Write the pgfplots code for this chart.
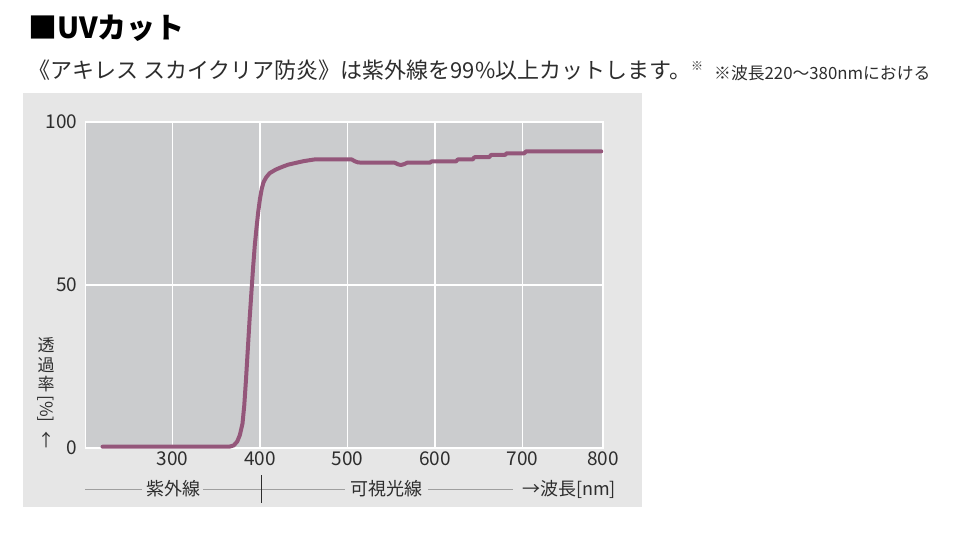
\documentclass[border=0pt]{standalone}
\usepackage{fontspec}
\setmainfont{Noto Sans CJK JP}
\usepackage{pgfplots}
\pgfplotsset{compat=1.18}
\definecolor{curve}{RGB}{148,86,122}
\definecolor{plotbg}{RGB}{203,204,206}
\definecolor{panel}{RGB}{230,230,230}
\definecolor{txt}{RGB}{45,45,45}
\pgfplotstableread{
nm T
220 0.4
365 0.4
370 0.8
374 2
377 4
380 7.5
382 13
384 21
386 30
388 39
390 47
392 55
394 62
396 67.5
398 72.5
400 76.5
402 79.5
404 81.5
407 83
411 84.3
418 85.4
425 86.2
432 86.9
440 87.4
450 88
462 88.5
505 88.5
508 88.0
512 87.6
520 87.5
554 87.5
558 87.0
561 86.8
565 87.1
568 87.5
594 87.5
596 87.9
624 87.9
626 88.5
643 88.5
645 89.2
662 89.2
664 89.9
680 89.9
682 90.4
702 90.4
704 91.0
790 91.0
}\transmission
\begin{document}
\begin{tikzpicture}[x=1pt,y=1pt]
\fill[white] (0,0) rectangle (964,-534);
\fill[panel] (23,-93) rectangle (642,-507);
\node[anchor=base west, inner sep=0, font=\fontsize{29}{29}\selectfont\bfseries] at (28,-39) {■UVカット};
\node[anchor=base west, inner sep=0, font=\fontsize{22}{22}\selectfont, text=txt] at (28,-79) {《アキレス スカイクリア防炎》は紫外線を99\%以上カットします。\raisebox{8pt}{\fontsize{12}{12}\selectfont ※}};
\node[anchor=base west, inner sep=0, font=\fontsize{16.8}{16}\selectfont, text=txt] at (714,-80) {※波長220～380nmにおける};
\begin{axis}[
  at={(85pt,-448pt)}, anchor=south west,
  scale only axis, width=518pt, height=326pt,
  xmin=200, xmax=792, ymin=0, ymax=100,
  xtick={300,400,500,600,700,792},
  xticklabels={300,400,500,600,700,800},
  ytick={0,50,100},
  grid=major,
  grid style={white, line width=1.5pt},
  axis background/.style={fill=plotbg},
  axis line style={white, line width=1pt},
  major tick length=0pt,
  tick label style={font=\fontsize{19}{19}\selectfont, text=txt},
  yticklabel style={xshift=-4pt},
  /pgf/number format/assume math mode=true,
  clip=false,
]
\addplot[curve, line width=4pt, line join=round, line cap=round] table[x=nm, y=T] {\transmission};
\end{axis}
% y label, stacked
\begin{scope}[every node/.style={font=\fontsize{17}{17}\selectfont, text=txt, inner sep=0}]
\node at (46,-345) {透};
\node at (46,-365) {過};
\node at (46,-384) {率};
\node[rotate=-90] at (46,-409) {[\%]};
\node at (46,-440) {↑};
\end{scope}
% bottom legend
\draw[gray!75, line width=0.8pt] (85,-489) -- (142,-489);
\draw[gray!75, line width=0.8pt] (203,-489) -- (345,-489);
\draw[gray!75, line width=0.8pt] (428,-489) -- (513,-489);
\draw[txt, line width=1pt] (261,-475) -- (261,-503);
\node[font=\fontsize{18}{18}\selectfont, text=txt, inner sep=0] at (173,-489) {紫外線};
\node[font=\fontsize{18}{18}\selectfont, text=txt, inner sep=0] at (386,-489) {可視光線};
\node[font=\fontsize{18}{18}\selectfont, text=txt, inner sep=0, anchor=west] at (522,-489) {→波長[nm]};
\end{tikzpicture}
\end{document}
